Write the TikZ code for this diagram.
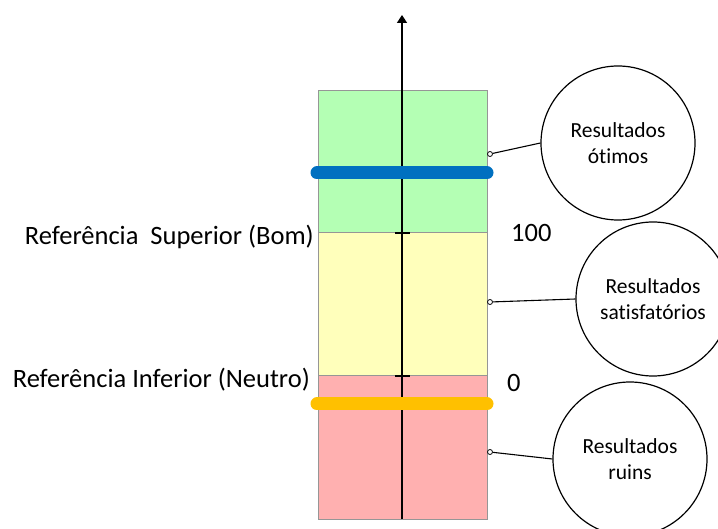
\documentclass[tikz,border=0pt]{standalone}
\usepackage{fontspec}
\setmainfont{Carlito}[RawFeature=-liga]
\usetikzlibrary{arrows.meta}
\definecolor{zgreen}{RGB}{180,255,180}
\definecolor{zyellow}{RGB}{255,255,187}
\definecolor{zred}{RGB}{255,176,176}
\definecolor{zborder}{RGB}{150,150,150}
\definecolor{barblue}{RGB}{0,112,192}
\definecolor{barorange}{RGB}{255,192,0}
\begin{document}
\begin{tikzpicture}[x=1pt,y=-1pt,
  zone/.style={draw=zborder,line width=1pt},
  bar/.style={line width=13pt,line cap=round},
  bubble/.style={circle,draw,line width=1.2pt,minimum size=154pt,inner sep=0pt,
    align=center,font=\fontsize{21.5}{26}\selectfont},
  reflabel/.style={anchor=east,font=\fontsize{26.5}{30}\selectfont,inner sep=0pt},
  numlabel/.style={anchor=west,font=\fontsize{26.5}{30}\selectfont,inner sep=0pt},
  dot/.style={circle,draw,fill=white,line width=0.8pt,minimum size=5pt,inner sep=0pt},
  link/.style={line width=1.1pt}]
\useasboundingbox (0,0) rectangle (718,529);
\clip (0,0) rectangle (718,529);
% three result zones
\fill[zgreen] (318,91) rectangle (487,233);
\fill[zyellow] (318,233) rectangle (487,376);
\fill[zred] (318,376) rectangle (487,519);
\draw[zone] (318,91) rectangle (487,519);
\draw[zone] (318,233) -- (487,233);
\draw[zone] (318,376) -- (487,376);
% vertical axis
\coordinate (axb) at (402,519);
\coordinate (axt) at (402,15);
\draw[line width=1.6pt,-{Triangle[length=8pt,width=10pt]}] (axb) -- (axt);
\draw[line width=1.2pt] (395,233) -- (410,233);
\draw[line width=1.2pt] (395,376) -- (410,376);
% reference bars
\draw[bar,barblue] (317,173) -- (487,173);
\draw[bar,barorange] (317,404) -- (487,404);
% labels
\node[reflabel] (sup) at (314,237) {Referência\ \ Superior (Bom)};
\node[reflabel] (inf) at (310,380) {Referência Inferior (Neutro)};
\node[numlabel] (n100) at (511,233) {100};
\node[numlabel] (n0) at (507,383) {0};
% result bubbles
\node[bubble] (otimo) at (618,143) {Resultados\\ótimos};
\node[bubble] (satis) at (653,299) {Resultados\\satisfatórios};
\node[bubble] (ruim) at (630,459) {Resultados\\ruins};
\node[dot] (d1) at (490,154) {};
\node[dot] (d2) at (490,302) {};
\node[dot] (d3) at (490,452) {};
\draw[link] (d1) -- (otimo.west);
\draw[link] (d2) -- (satis.west);
\draw[link] (d3) -- (ruim.west);
\end{tikzpicture}
\end{document}
